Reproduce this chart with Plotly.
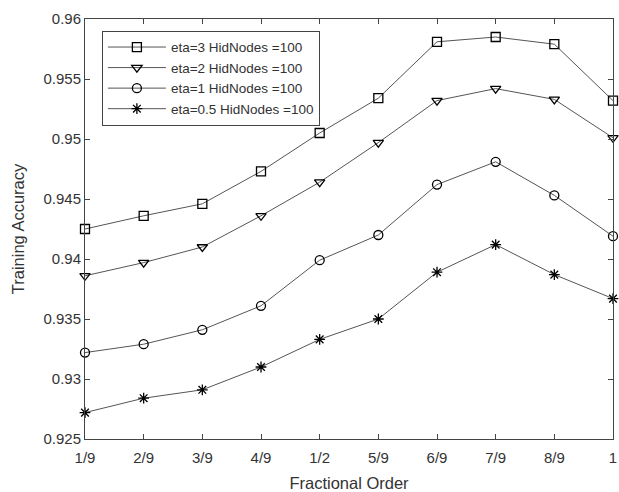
import plotly.graph_objects as go

orders = ["1/9", "2/9", "3/9", "4/9", "1/2", "5/9", "6/9", "7/9", "8/9", "1"]
eta3 = [0.9425, 0.9436, 0.9446, 0.9473, 0.9505, 0.9534, 0.9581, 0.9585, 0.9579, 0.9532]
eta2 = [0.9386, 0.9397, 0.9410, 0.9436, 0.9464, 0.9497, 0.9532, 0.9542, 0.9533, 0.9501]
eta1 = [0.9322, 0.9329, 0.9341, 0.9361, 0.9399, 0.9420, 0.9462, 0.9481, 0.9453, 0.9419]
eta05 = [0.9272, 0.9284, 0.9291, 0.9310, 0.9333, 0.9350, 0.9389, 0.9412, 0.9387, 0.9367]
names = ["eta=3 HidNodes =100", "eta=2 HidNodes =100", "eta=1 HidNodes =100", "eta=0.5 HidNodes =100"]
symbols = ["square-open", "triangle-down-open", "circle-open", "asterisk-open"]

FONT = "Liberation Sans, Arial"

fig = go.Figure()
for vals, name, sym in zip([eta3, eta2, eta1, eta05], names, symbols):
    fig.add_trace(go.Scatter(
        x=orders, y=vals, name=name, mode="lines+markers",
        line=dict(color="#555555", width=1),
        marker=dict(symbol=sym, size=9, color="black", line=dict(color="black", width=1.3)),
        cliponaxis=False,
    ))

axis_common = dict(
    showline=True, linecolor="#444444", linewidth=1, mirror="ticks",
    ticks="inside", ticklen=5, tickcolor="#444444",
    showgrid=False, zeroline=False,
    tickfont=dict(family=FONT, size=15, color="#333333"),
    title_font=dict(family=FONT, size=16.5, color="#333333"),
)
fig.update_xaxes(type="category", range=[0, 9], title_text="Fractional Order",
                 title_standoff=12, ticklabelstandoff=5, **axis_common)
fig.update_yaxes(range=[0.925, 0.96], dtick=0.005, tickformat="~g", title_text="Training Accuracy",
                 title_standoff=14, **axis_common)

fig.update_layout(
    width=619, height=492,
    margin=dict(l=85, r=2, t=19, b=53),
    plot_bgcolor="white", paper_bgcolor="white",
    font=dict(family=FONT, color="#333333"),
    legend=dict(x=0.032, y=0.972, xanchor="left", yanchor="top",
                bordercolor="#444444", borderwidth=1, bgcolor="white",
                font=dict(size=13.5, color="#333333"), itemwidth=58,
                tracegroupgap=0),
    showlegend=True,
)
fig.write_html("out.html", config={"displayModeBar": False},
               post_script="document.body.style.margin='0';")
